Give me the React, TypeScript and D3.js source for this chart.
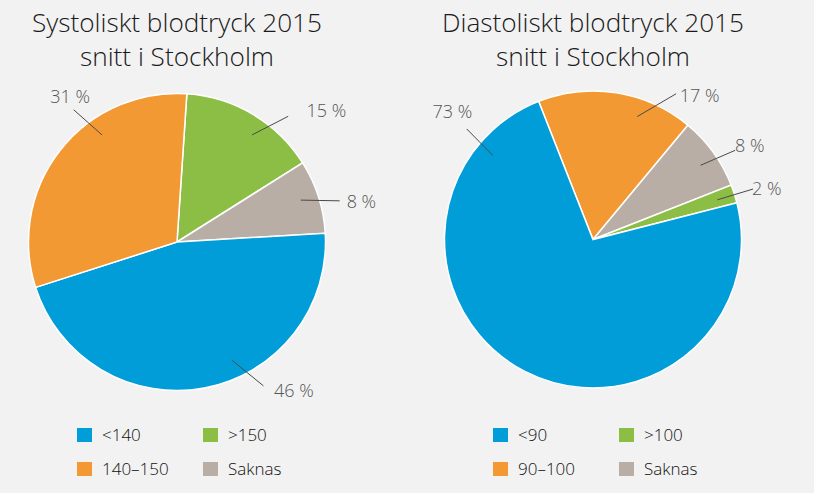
import React from 'react';
import * as d3 from 'd3';

// data
const sysCategories = ['<140', '>150', '140–150', 'Saknas'];
const sysValues = [46, 15, 31, 8];
const diaCategories = ['<90', '>100', '90–100', 'Saknas'];
const diaValues = [73, 2, 17, 8];
// drawing order round the pie (clockwise), index into the arrays above
const sysOrder = [1, 3, 0, 2];
const diaOrder = [2, 3, 1, 0];

const colors = ['#009dd9', '#8cbe45', '#f39933', '#b8aea6'];

// label layout per category: [line start angle, line end angle, text angle, text radius, anchor]
type LabelPos = [number, number, number, number, string];
const sysLabels: LabelPos[] = [
  [155, 149, 148, 183, 'start'],
  [35, 41.5, 46, 180, 'start'],
  [-35, -38, -37.6, 175, 'middle'],
  [71.3, 75.8, 78.7, 173, 'start'],
];
const diaLabels: LabelPos[] = [
  [-50, -48.8, -49.1, 186, 'middle'],
  [72.3, 72.5, 74.5, 165, 'start'],
  [19.8, 29.7, 32.2, 163, 'start'],
  [55.4, 57.9, 58.2, 167, 'start'],
];

const W = 814;
const H = 493;
const R = 148.5;
const rad = (d: number) => (d * Math.PI) / 180;
const polar = (a: number, r: number): [number, number] => [Math.sin(rad(a)) * r, -Math.cos(rad(a)) * r];

type PieProps = {
  cx: number;
  cy: number;
  title: string;
  categories: string[];
  values: number[];
  order: number[];
  start: number;
  labels: LabelPos[];
};

const Pie = ({ cx, cy, title, categories, values, order, start, labels }: PieProps) => {
  const pie = d3
    .pie<number>()
    .sort(null)
    .value((i) => values[i])
    .startAngle(rad(start))
    .endAngle(rad(start) + Math.PI * 2);
  const arcs = pie(order);
  const arc = d3.arc<d3.PieArcDatum<number>>().innerRadius(0).outerRadius(R);

  return (
    <g>
      <text x={cx} y={32} textAnchor="middle" fontSize={26.2} fontWeight={300} fill="#1a1a1a">
        {title}
      </text>
      <text x={cx} y={66} textAnchor="middle" fontSize={26.2} fontWeight={300} fill="#1a1a1a">
        snitt i Stockholm
      </text>
      <g transform={`translate(${cx},${cy})`}>
        {arcs.map((a) => (
          <path key={a.data} d={arc(a) || ''} fill={colors[a.data]} stroke="#fff" strokeWidth={1.5} />
        ))}
        {arcs.map((a) => {
          const [ia, oa, ta, tr, anchor] = labels[a.data];
          const p1 = polar(ia, R * 0.88);
          const p2 = polar(oa, R * 1.13);
          const t = polar(ta, tr);
          return (
            <g key={'l' + a.data}>
              <line x1={p1[0]} y1={p1[1]} x2={p2[0]} y2={p2[1]} stroke="#4a4a4a" strokeWidth={1} />
              <text x={t[0]} y={t[1]} textAnchor={anchor} fontSize={18} fontWeight={300} fill="#555">
                {values[a.data]} %
              </text>
            </g>
          );
        })}
      </g>
      {categories.map((c, i) => {
        const col = i % 2;
        const row = Math.floor(i / 2);
        const x = cx - 100 + col * 126;
        const y = 428 + row * 34;
        return (
          <g key={c}>
            <rect x={x} y={y} width={15} height={14} fill={colors[i]} />
            <text x={x + 25} y={y + 13} fontSize={17} fontWeight={300} fill="#111">
              {c}
            </text>
          </g>
        );
      })}
    </g>
  );
};

const App = () => (
  <svg
    width={W}
    height={H}
    style={{
      position: 'absolute',
      left: 0,
      top: 0,
      display: 'block',
      background: '#f2f2f2',
      fontFamily: "'Open Sans', sans-serif",
    }}
  >
    <Pie
      cx={177}
      cy={242}
      title="Systoliskt blodtryck 2015"
      categories={sysCategories}
      values={sysValues}
      order={sysOrder}
      start={3.8}
      labels={sysLabels}
    />
    <Pie
      cx={593}
      cy={239.5}
      title="Diastoliskt blodtryck 2015"
      categories={diaCategories}
      values={diaValues}
      order={diaOrder}
      start={-21.5}
      labels={diaLabels}
    />
  </svg>
);

export default App;
